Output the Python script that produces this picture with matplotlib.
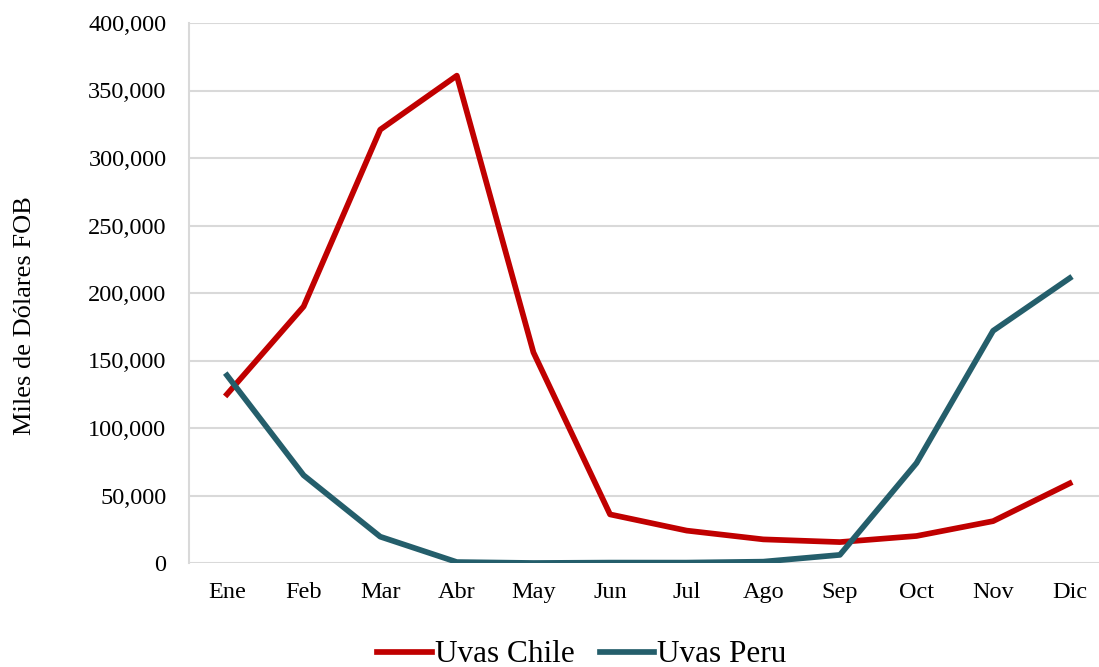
import matplotlib.pyplot as plt
from matplotlib.ticker import FuncFormatter

meses = ['Ene', 'Feb', 'Mar', 'Abr', 'May', 'Jun',
         'Jul', 'Ago', 'Sep', 'Oct', 'Nov', 'Dic']
uvas_chile = [125000, 190000, 321000, 361000, 156000, 36000,
              24000, 17500, 15500, 20000, 31000, 59000]
uvas_peru = [139000, 65000, 19500, 700, 0, 300,
             300, 1000, 6000, 74000, 172000, 211000]

plt.rcParams['font.family'] = ['Liberation Serif', 'DejaVu Serif']

fig = plt.figure(figsize=(10.99, 6.67), dpi=100)
# axes runs past the right edge, like the source crop
ax = fig.add_axes([188.7 / 1099, 1 - 563 / 667, (1108 - 188.7) / 1099, 540 / 667])

x = range(len(meses))
l1, = ax.plot(x, uvas_chile, color='#C00000', linewidth=4.1, label='Uvas Chile',
              solid_joinstyle='round', zorder=3)
l2, = ax.plot(x, uvas_peru, color='#245E6B', linewidth=4.1, label='Uvas Peru',
              solid_joinstyle='round', zorder=3)

ax.set_xlim(-0.5, 11.5)
ax.set_ylim(0, 400000)
ax.set_yticks(range(0, 400001, 50000))
ax.yaxis.set_major_formatter(FuncFormatter(lambda v, p: '{:,.0f}'.format(v)))
ax.set_xticks(list(x))
ax.set_xticklabels(meses)
ax.tick_params(axis='both', length=0, labelsize=17.5, colors='#000000')
ax.tick_params(axis='y', pad=16)
ax.tick_params(axis='x', pad=14)

ax.grid(axis='y', color='#d9d9d9', linewidth=1.5)
ax.set_axisbelow(True)
for s in ['top', 'right', 'bottom']:
    ax.spines[s].set_visible(False)
ax.spines['left'].set_color('#d9d9d9')
ax.spines['left'].set_linewidth(1.5)

ax.set_ylabel('Miles de Dólares FOB', fontsize=19)
ax.yaxis.set_label_coords(-0.166, 0.459)

fig.legend([l1, l2], ['Uvas Chile', 'Uvas Peru'], loc='center',
           bbox_to_anchor=(582 / 1099, 1 - 655 / 667), ncol=2, frameon=False,
           fontsize=22.5, handlelength=1.75, handletextpad=0.1, columnspacing=0.8)

fig.savefig('out.png', dpi=100)
